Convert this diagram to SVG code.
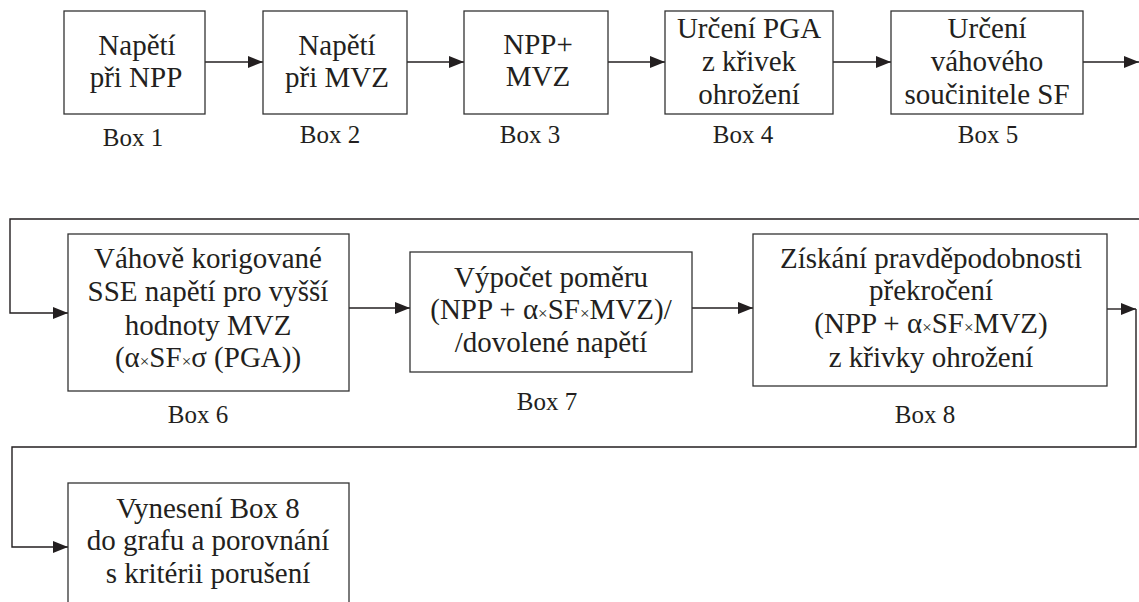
<svg xmlns="http://www.w3.org/2000/svg" width="1139" height="602" viewBox="0 0 1139 602" font-family="Liberation Serif">
<style>
.box{fill:#fff;stroke:#333;stroke-width:1.3}
.btxt{font-family:'Liberation Serif',serif;font-size:29px;fill:#231f20;text-anchor:middle}
.lbl{font-family:'Liberation Serif',serif;font-size:25px;fill:#231f20;text-anchor:middle}
.conn{fill:none;stroke:#231f20;stroke-width:1.4}
.mul{font-size:17px}
</style>
<defs>
<marker id="ah" markerUnits="userSpaceOnUse" markerWidth="16" markerHeight="12" refX="15" refY="6" orient="auto">
<path d="M0,0 L15,6 L0,12 Z" fill="#231f20"/>
</marker>
</defs>
<rect width="1139" height="602" fill="#fff"/>
<g id="connectors">
<line class="conn" x1="205" y1="62" x2="263" y2="62" marker-end="url(#ah)"/>
<line class="conn" x1="407" y1="62" x2="464" y2="62" marker-end="url(#ah)"/>
<line class="conn" x1="608" y1="62" x2="665" y2="62" marker-end="url(#ah)"/>
<line class="conn" x1="833" y1="62" x2="891" y2="62" marker-end="url(#ah)"/>
<line class="conn" x1="1083" y1="62" x2="1139" y2="62" marker-end="url(#ah)"/>
<polyline class="conn" points="1139,219 10,219 10,313 68,313" marker-end="url(#ah)"/>
<line class="conn" x1="349" y1="308" x2="410" y2="308" marker-end="url(#ah)"/>
<line class="conn" x1="692" y1="308" x2="753" y2="308" marker-end="url(#ah)"/>
<line class="conn" x1="1107" y1="309" x2="1136" y2="309" marker-end="url(#ah)"/>
<polyline class="conn" points="1136,309 1136,447 12,447 12,547 68,547" marker-end="url(#ah)"/>
</g>
<g id="box1">
<rect class="box" x="64" y="11" width="141" height="103"/>
<text class="btxt" x="137" y="55">Napětí</text>
<text class="btxt" x="136" y="87">při NPP</text>
<text class="lbl" x="133" y="146">Box 1</text>
</g>
<g id="box2">
<rect class="box" x="263" y="11" width="144" height="103"/>
<text class="btxt" x="337" y="55">Napětí</text>
<text class="btxt" x="337" y="87">při MVZ</text>
<text class="lbl" x="330" y="143">Box 2</text>
</g>
<g id="box3">
<rect class="box" x="464" y="11" width="144" height="103"/>
<text class="btxt" x="538" y="54">NPP+</text>
<text class="btxt" x="538" y="86">MVZ</text>
<text class="lbl" x="530" y="143">Box 3</text>
</g>
<g id="box4">
<rect class="box" x="665" y="11" width="168" height="103"/>
<text class="btxt" x="749" y="38">Určení PGA</text>
<text class="btxt" x="749" y="71">z křivek</text>
<text class="btxt" x="749" y="104">ohrožení</text>
<text class="lbl" x="743" y="143">Box 4</text>
</g>
<g id="box5">
<rect class="box" x="891" y="11" width="192" height="103"/>
<text class="btxt" x="987" y="38">Určení</text>
<text class="btxt" x="987" y="71">váhového</text>
<text class="btxt" x="987" y="104">součinitele SF</text>
<text class="lbl" x="988" y="143">Box 5</text>
</g>
<g id="box6">
<rect class="box" x="68" y="234" width="281" height="157"/>
<text class="btxt" x="208" y="268">Váhově korigované</text>
<text class="btxt" x="208" y="301">SSE napětí pro vyšší</text>
<text class="btxt" x="208" y="335">hodnoty MVZ</text>
<text class="btxt" x="208" y="367">(α<tspan class="mul">×</tspan>SF<tspan class="mul">×</tspan>σ (PGA))</text>
<text class="lbl" x="198" y="423">Box 6</text>
</g>
<g id="box7">
<rect class="box" x="410" y="252" width="282" height="120"/>
<text class="btxt" x="551" y="287">Výpočet poměru</text>
<text class="btxt" x="551" y="319">(NPP + α<tspan class="mul">×</tspan>SF<tspan class="mul">×</tspan>MVZ)/</text>
<text class="btxt" x="551" y="352">/dovolené napětí</text>
<text class="lbl" x="547" y="410">Box 7</text>
</g>
<g id="box8">
<rect class="box" x="753" y="234" width="354" height="152"/>
<text class="btxt" x="931" y="268">Získání pravděpodobnosti</text>
<text class="btxt" x="931" y="300">překročení</text>
<text class="btxt" x="931" y="333">(NPP + α<tspan class="mul">×</tspan>SF<tspan class="mul">×</tspan>MVZ)</text>
<text class="btxt" x="931" y="367">z křivky ohrožení</text>
<text class="lbl" x="925" y="423">Box 8</text>
</g>
<g id="box9">
<rect class="box" x="68" y="483" width="281" height="130"/>
<text class="btxt" x="208" y="518">Vynesení Box 8</text>
<text class="btxt" x="208" y="550">do grafu a porovnání</text>
<text class="btxt" x="208" y="583">s kritérii porušení</text>
</g>
</svg>
